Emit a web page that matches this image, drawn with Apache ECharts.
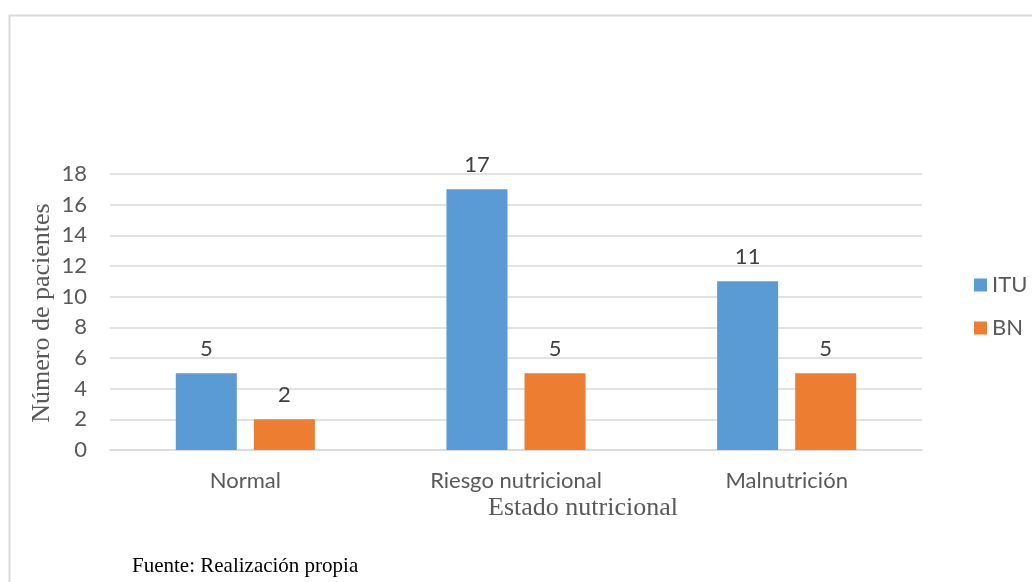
<!DOCTYPE html>
<html>
<head>
<meta charset="utf-8">
<title>Estado nutricional</title>
<script src="https://cdn.jsdelivr.net/npm/echarts@6/dist/echarts.min.js"></script>
<style>
  html, body { margin: 0; padding: 0; background: #ffffff; }
  #chart { width: 1032px; height: 582px; }
</style>
</head>
<body>
<div id="chart"></div>
<script>
// Nutritional status categories and patient counts per group
const categories = ['Normal', 'Riesgo nutricional', 'Malnutrición'];
const ituValues = [5, 17, 11];
const bnValues = [2, 5, 5];
const seriesNames = ['ITU', 'BN'];
const yTicks = { min: 0, max: 18, interval: 2 };

const sans = 'Lato, "Open Sans", sans-serif';
const serif = '"Liberation Serif", "DejaVu Serif", serif';
const gray = '#595959';

const chart = echarts.init(document.getElementById('chart'), null, { renderer: 'canvas' });

const labelStyle = {
  show: true,
  position: 'top',
  distance: 13,
  fontFamily: sans,
  fontSize: 22,
  color: '#404040'
};

chart.setOption({
  animation: false,
  backgroundColor: '#ffffff',
  grid: { left: 110, right: 110, top: 174, bottom: 132 },
  legend: {
    orient: 'vertical',
    left: 969,
    top: 269,
    itemWidth: 13,
    itemHeight: 13,
    itemGap: 21,
    icon: 'rect',
    textStyle: { fontFamily: sans, fontSize: 22, color: gray },
    data: seriesNames
  },
  xAxis: {
    type: 'category',
    data: categories,
    axisLine: { show: true, lineStyle: { color: '#d9d9d9', width: 1.5 } },
    axisTick: { show: false },
    axisLabel: { margin: 20, fontFamily: sans, fontSize: 22, color: gray }
  },
  yAxis: {
    type: 'value',
    min: yTicks.min,
    max: yTicks.max,
    interval: yTicks.interval,
    axisLine: { show: false },
    axisTick: { show: false },
    axisLabel: { margin: 23, fontFamily: sans, fontSize: 22, color: gray },
    splitLine: { lineStyle: { color: '#d9d9d9', width: 1.5 } }
  },
  series: [
    {
      name: seriesNames[0],
      type: 'bar',
      data: ituValues,
      barWidth: 61,
      barGap: '28%',
      itemStyle: { color: '#5b9bd5' },
      label: labelStyle
    },
    {
      name: seriesNames[1],
      type: 'bar',
      data: bnValues,
      barWidth: 61,
      barGap: '28%',
      itemStyle: { color: '#ed7d31' },
      label: labelStyle
    }
  ],
  graphic: [
    {
      type: 'rect',
      silent: true,
      shape: { x: 9.5, y: 15.5, width: 1100, height: 700 },
      style: { fill: 'none', stroke: '#d9d9d9', lineWidth: 2 }
    },
    {
      // vertical axis title
      type: 'text',
      silent: true,
      x: 42,
      y: 313,
      rotation: Math.PI / 2,
      style: {
        text: 'Número de pacientes',
        fontFamily: serif,
        fontSize: 26,
        fill: gray,
        align: 'center',
        verticalAlign: 'middle'
      }
    },
    {
      type: 'text',
      silent: true,
      x: 583,
      y: 508,
      style: {
        text: 'Estado nutricional',
        fontFamily: serif,
        fontSize: 26,
        fill: gray,
        align: 'center',
        verticalAlign: 'middle'
      }
    },
    {
      type: 'text',
      silent: true,
      x: 132,
      y: 566,
      style: {
        text: 'Fuente: Realización propia',
        fontFamily: serif,
        fontSize: 21,
        fill: '#000000',
        align: 'left',
        verticalAlign: 'middle'
      }
    }
  ]
});
</script>
</body>
</html>
